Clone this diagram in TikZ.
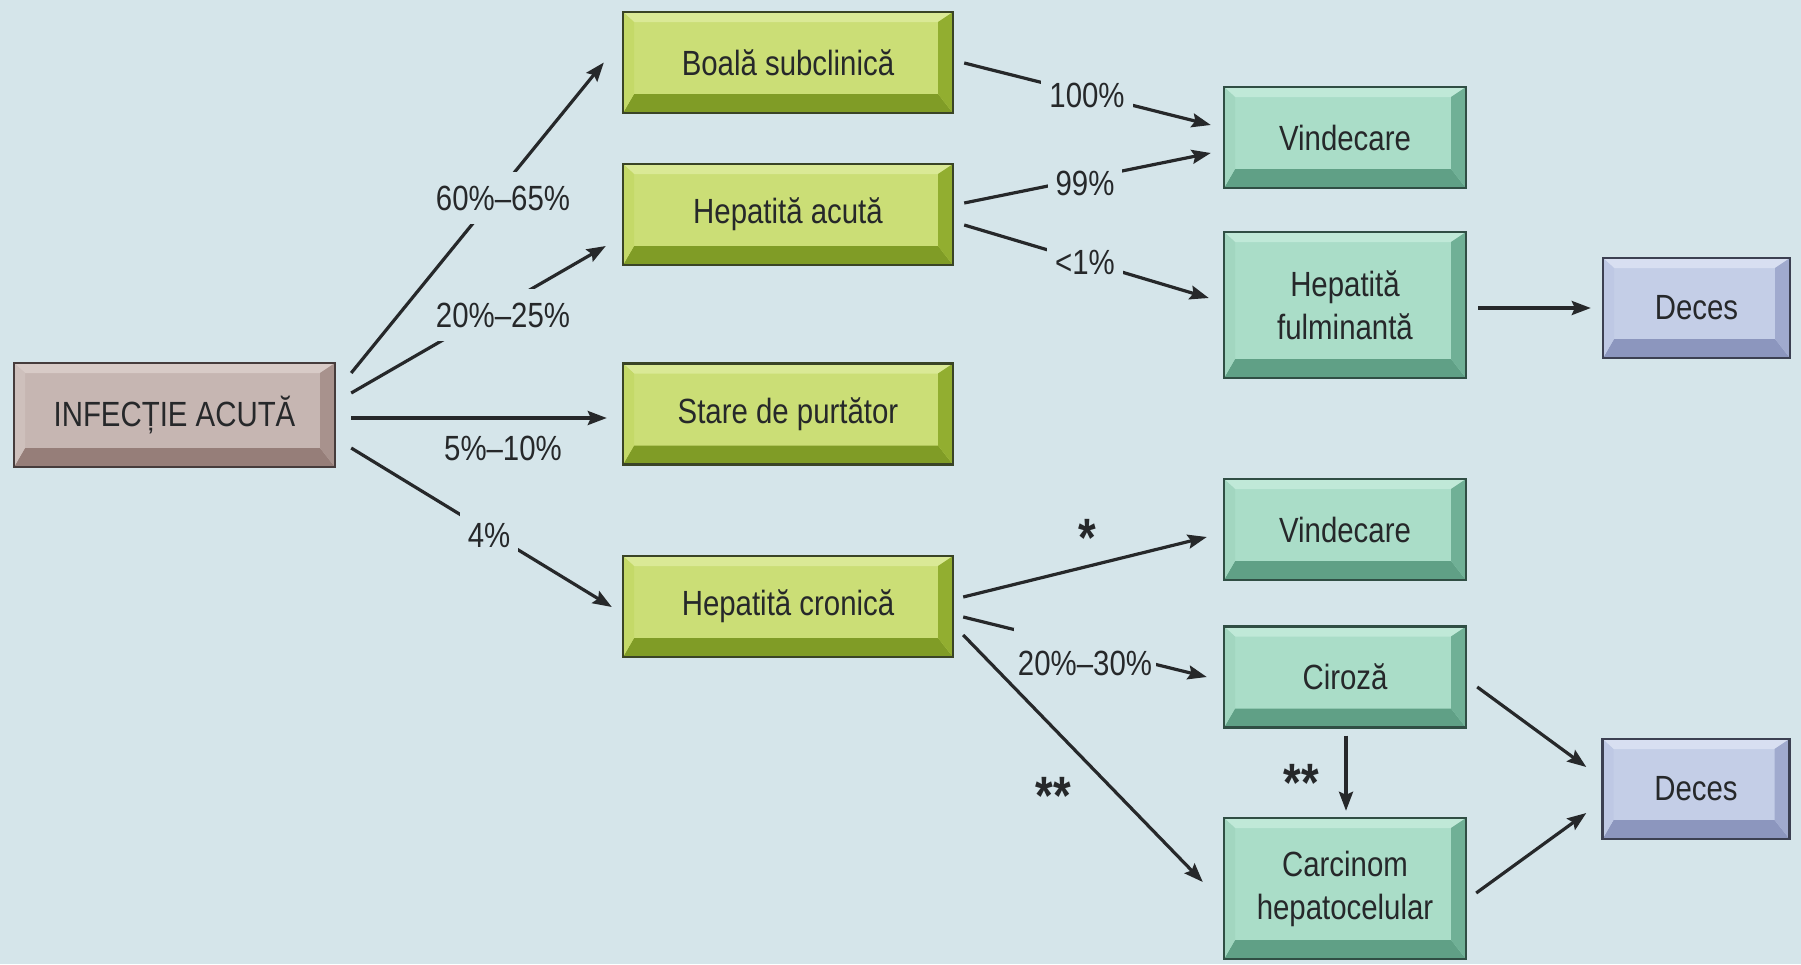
\documentclass[tikz,border=0pt]{standalone}
\usepackage{fontspec}
\setmainfont{Liberation Sans}[FakeStretch=0.84]
\usetikzlibrary{calc,arrows.meta}

% palette
\definecolor{bg}{RGB}{213,229,234}
\definecolor{ink}{RGB}{38,40,42}
\definecolor{pink-face}{RGB}{198,182,178}
\definecolor{pink-top}{RGB}{216,203,199}
\definecolor{pink-left}{RGB}{206,192,188}
\definecolor{pink-right}{RGB}{168,146,141}
\definecolor{pink-bottom}{RGB}{150,126,121}
\definecolor{pink-edge}{RGB}{70,60,60}
\definecolor{green-face}{RGB}{203,222,118}
\definecolor{green-top}{RGB}{218,233,150}
\definecolor{green-left}{RGB}{196,217,104}
\definecolor{green-right}{RGB}{146,174,48}
\definecolor{green-bottom}{RGB}{128,156,38}
\definecolor{green-edge}{RGB}{58,68,38}
\definecolor{teal-face}{RGB}{170,221,200}
\definecolor{teal-top}{RGB}{192,233,216}
\definecolor{teal-left}{RGB}{162,214,192}
\definecolor{teal-right}{RGB}{112,176,150}
\definecolor{teal-bottom}{RGB}{96,160,134}
\definecolor{teal-edge}{RGB}{48,78,68}
\definecolor{lav-face}{RGB}{196,206,231}
\definecolor{lav-top}{RGB}{216,223,241}
\definecolor{lav-left}{RGB}{190,200,228}
\definecolor{lav-right}{RGB}{160,170,206}
\definecolor{lav-bottom}{RGB}{140,150,190}
\definecolor{lav-edge}{RGB}{60,64,82}

% four bevel faces inside a box: top, bottom, left, right
\newcommand\bevelfaces[1]{%
  \coordinate (o1) at (path picture bounding box.south west);
  \coordinate (o3) at (path picture bounding box.north east);
  \coordinate (o2) at (o1 -| o3);
  \coordinate (o4) at (o1 |- o3);
  \coordinate (i1) at ([shift={(11pt,19pt)}]o1);
  \coordinate (i2) at ([shift={(-15pt,19pt)}]o2);
  \coordinate (i3) at ([shift={(-15pt,-10pt)}]o3);
  \coordinate (i4) at ([shift={(11pt,-10pt)}]o4);
  \fill[#1-top]    (o4) -- (o3) -- (i3) -- (i4) -- cycle;
  \fill[#1-bottom] (o1) -- (o2) -- (i2) -- (i1) -- cycle;
  \fill[#1-left]   (o1) -- (o4) -- (i4) -- (i1) -- cycle;
  \fill[#1-right]  (o2) -- (o3) -- (i3) -- (i2) -- cycle;
}

\begin{document}
\begin{tikzpicture}[x=1pt,y=-1pt,
  every node/.style={text=ink, font=\fontsize{35}{43}\selectfont},
  box/.style={draw=#1-edge, line width=2.4pt, fill=#1-face, inner sep=0pt,
    align=center, path picture={\bevelfaces{#1}},
    execute at end node={\endgraf\vspace*{8pt}}},
  pinkbox/.style={box=pink, minimum width=321pt, minimum height=104pt},
  greenbox/.style={box=green, minimum width=330pt, minimum height=101pt},
  tealbox/.style={box=teal, minimum width=242pt, minimum height=101pt},
  lavbox/.style={box=lav, minimum width=187pt, minimum height=100pt},
  arr/.style={draw=ink, line width=3.2pt,
    -{Stealth[length=19pt,width=14pt,inset=3pt]}},
  gap/.style={fill=bg, inner xsep=8pt, inner ysep=14pt},
  note/.style={inner sep=0pt},
  starmark/.style={inner sep=0pt, font=\fontsize{54}{54}\selectfont\bfseries}]

\useasboundingbox (0,0) rectangle (1801,964);
\fill[bg] (0,0) rectangle (1801,964);

% boxes
\node[pinkbox]  (inf)    at (174.5,415)  {INFECȚIE ACUTĂ};
\node[greenbox] (boala)  at (788,62.5)   {Boală subclinică};
\node[greenbox] (hacuta) at (788,214.5)  {Hepatită acută};
\node[greenbox] (stare)  at (788,414)    {Stare de purtător};
\node[greenbox] (hcron)  at (788,606.5)  {Hepatită cronică};
\node[tealbox]  (vind1)  at (1345,137.5) {Vindecare};
\node[tealbox, minimum height=146pt] (fulm) at (1345,305) {Hepatită\\fulminantă};
\node[lavbox]   (deces1) at (1696.5,308) {Deces};
\node[tealbox]  (vind2)  at (1345,529.5) {Vindecare};
\node[tealbox]  (ciroza) at (1345,677)   {Ciroză};
\node[tealbox, minimum height=141pt] (carc) at (1345,888.5) {Carcinom\\hepatocelular};
\node[lavbox]   (deces2) at (1696,789)   {Deces};

% connectors
\draw[arr] ($(inf.east)+(15,-42)$)    -- ($(boala.west)+(-18,0)$);
\draw[arr] ($(inf.east)+(15,-22)$)    -- ($(hacuta.west)+(-16,31.5)$);
\draw[arr] ($(inf.east)+(15,3)$)      -- ($(stare.west)+(-15,4)$);
\draw[arr] ($(inf.east)+(15,33)$)     -- ($(hcron.west)+(-10,0.5)$);
\draw[arr] ($(boala.east)+(10,0.5)$)  -- ($(vind1.west)+(-12,-12.5)$);
\draw[arr] ($(hacuta.east)+(10,-11.5)$) -- ($(vind1.west)+(-12,15.5)$);
\draw[arr] ($(hacuta.east)+(10,10.5)$)  -- ($(fulm.west)+(-14,-7)$);
\draw[arr] ($(fulm.east)+(11,3)$)     -- ($(deces1.west)+(-11,0)$);
\draw[arr] ($(hcron.east)+(9,-9.5)$)  -- ($(vind2.west)+(-16,7.5)$);
\draw[arr] ($(hcron.east)+(9,10.5)$)  -- ($(ciroza.west)+(-16,0)$);
\draw[arr] ($(hcron.east)+(9,28.5)$)  -- ($(carc.west)+(-20,-6.5)$);
\draw[arr] ($(ciroza.south)+(1,7)$)   -- ($(carc.north)+(1,-6)$);
\draw[arr] ($(ciroza.east)+(10,10)$)  -- ($(deces2.west)+(-15,-22)$);
\draw[arr] ($(carc.east)+(9,4.5)$)    -- ($(deces2.west)+(-15,24)$);

% percentages and marks
\node[gap]  (p60)  at (503,198)  {60\%–65\%};
\node[gap]  (p20)  at (503,315)  {20\%–25\%};
\node[note] (p5)   at (503,448)  {5\%–10\%};
\node[gap]  (p4)   at (489,535)  {4\%};
\node[gap]  (p100) at (1087,95)  {100\%};
\node[gap]  (p99)  at (1085,183) {99\%};
\node[gap]  (p1)   at (1085,262) {<1\%};
\node[gap, anchor=base, inner xsep=4pt, inner ysep=8pt,
      text height=40pt, text depth=0pt] (p2030) at (1085,675.5) {20\%–30\%};
\node[starmark] (s1) at (1087,538) {*};
\node[starmark] (s2) at (1053,796) {**};
\node[starmark] (s3) at (1301,783) {**};

\end{tikzpicture}
\end{document}
